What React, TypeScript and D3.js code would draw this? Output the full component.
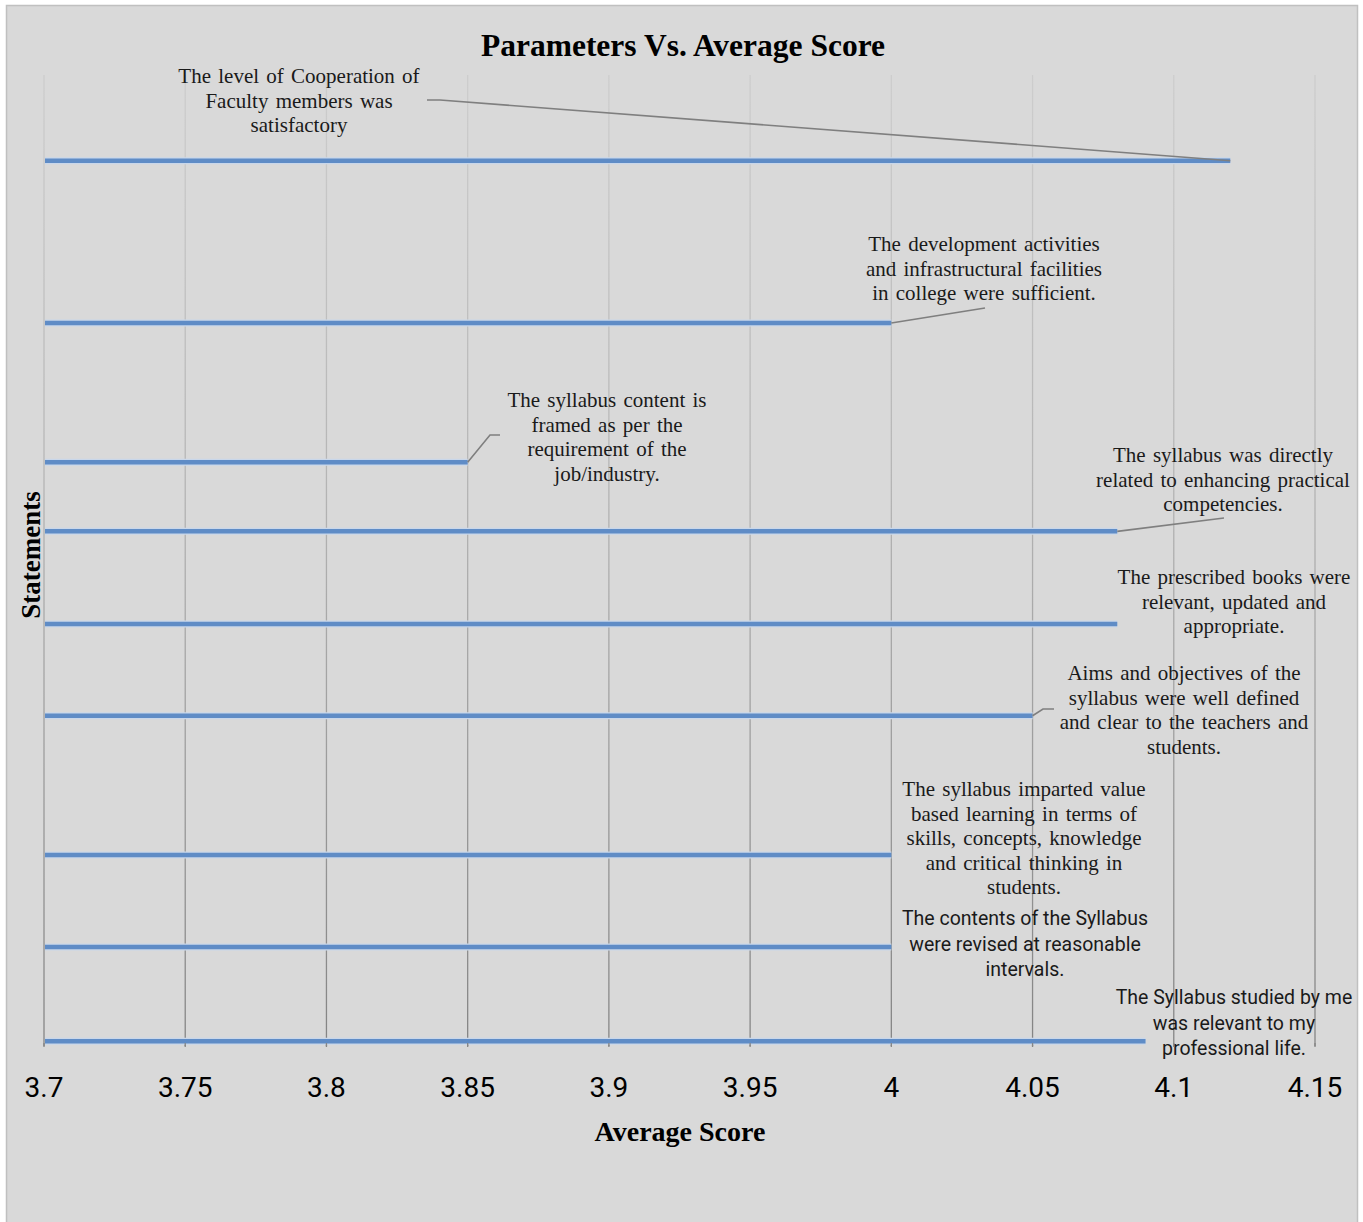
import React from "react";
import * as d3 from "d3";

// ---- data ----
const statements: string[] = [
  "The level of Cooperation of Faculty members was satisfactory",
  "The development activities and infrastructural facilities in college were sufficient.",
  "The syllabus content is framed as per the requirement of the job/industry.",
  "The syllabus was directly related to enhancing practical competencies.",
  "The prescribed books were relevant, updated and appropriate.",
  "Aims and objectives of the syllabus were well defined and clear to the teachers and students.",
  "The syllabus imparted value based learning in terms of skills, concepts, knowledge and critical thinking in students.",
  "The contents of the Syllabus were revised at reasonable intervals.",
  "The Syllabus studied by me was relevant to my professional life.",
];
const averageScores: number[] = [4.12, 4.0, 3.85, 4.08, 4.08, 4.05, 4.0, 4.0, 4.09];
const statementY: number[] = [9.57, 7.81, 6.3, 5.55, 4.545, 3.55, 2.04, 1.04, 0.02];
const xTicks: number[] = [3.7, 3.75, 3.8, 3.85, 3.9, 3.95, 4, 4.05, 4.1, 4.15];

// label line breaks, as in the picture
const labelLines: string[][] = [
  ["The level of Cooperation of", "Faculty members was", "satisfactory"],
  ["The development activities", "and infrastructural facilities", "in college were sufficient."],
  ["The syllabus content is", "framed as per the", "requirement of the", "job/industry."],
  ["The syllabus was directly", "related to enhancing practical", "competencies."],
  ["The prescribed books were", "relevant, updated and", "appropriate."],
  ["Aims and objectives of the", "syllabus were well defined", "and clear to the teachers and", "students."],
  ["The syllabus imparted value", "based learning in terms of", "skills, concepts, knowledge", "and critical thinking in", "students."],
  ["The contents of the Syllabus", "were revised at reasonable", "intervals."],
  ["The Syllabus studied by me", "was relevant to my", "professional life."],
];

// ---- layout (positions of labels / leaders) ----
const labelLayout = [
  { cx: 299, y0: 83, sans: false, leader: [[427, 100], [440, 100]] },
  { cx: 984, y0: 251, sans: false, leader: [[985, 308]] },
  { cx: 607, y0: 407, sans: false, leader: [[500, 435], [490, 435]] },
  { cx: 1223, y0: 462, sans: false, leader: [[1224, 518]] },
  { cx: 1234, y0: 584, sans: false, leader: [] },
  { cx: 1184, y0: 680, sans: false, leader: [[1054, 709], [1043, 709]] },
  { cx: 1024, y0: 796, sans: false, leader: [] },
  { cx: 1025, y0: 925, sans: true, leader: [] },
  { cx: 1234, y0: 1004, sans: true, leader: [] },
];

const W = 1363;
const H = 1222;
const plotLeft = 44;
const plotRight = 1315;
const plotTop = 75;
const plotBottom = 1043;

export default function App() {
  const x = d3.scaleLinear().domain([3.7, 4.15]).range([plotLeft, plotRight]);
  const y = d3.scaleLinear().domain([0, 10.5]).range([plotBottom, plotTop]);
  const serif = "'Liberation Serif', 'Times New Roman', serif";
  const sans = "Roboto, 'Noto Sans', sans-serif";
  const line = d3.line<number[]>().x((d) => d[0]).y((d) => d[1]);

  return (
    <svg
      width={W}
      height={H}
      style={{ position: "absolute", left: 0, top: 0, display: "block" }}
    >
      <defs>
        <linearGradient id="gridGrad" gradientUnits="userSpaceOnUse" x1="0" y1={plotTop} x2="0" y2={plotBottom + 4}>
          <stop offset="0" stopColor="#cdcdcd" />
          <stop offset="0.4" stopColor="#b6b6b6" />
          <stop offset="1" stopColor="#848484" />
        </linearGradient>
      </defs>
      <rect x={0} y={0} width={W} height={H} fill="#ffffff" />
      <rect x={6.5} y={5.5} width={1351} height={1222} fill="#d9d9d9" stroke="#c0c0c0" strokeWidth={1.5} />

      {/* title */}
      <text x={683} y={56} textAnchor="middle" fontFamily={serif} fontWeight="bold" fontSize={31.5} fill="#000">
        Parameters Vs. Average Score
      </text>

      {/* vertical gridlines */}
      {xTicks.map((t) => (
        <line key={"g" + t} x1={x(t)} x2={x(t)} y1={plotTop} y2={plotBottom + 3} stroke="url(#gridGrad)" strokeWidth={1.3} />
      ))}

      {/* bars drawn as thick lines */}
      {averageScores.map((v, i) => (
        <g key={"b" + i}>
          <line x1={x(3.7) + 1} x2={x(v)} y1={y(statementY[i])} y2={y(statementY[i])} stroke="#c9d7ea" strokeWidth={7} />
          <line x1={x(3.7) + 1} x2={x(v)} y1={y(statementY[i])} y2={y(statementY[i])} stroke="#5f8cc6" strokeWidth={4.5} />
        </g>
      ))}

      {/* leader lines */}
      {labelLayout.map((l, i) =>
        l.leader.length ? (
          <path
            key={"l" + i}
            d={line([...(l.leader as number[][]), [x(averageScores[i]), y(statementY[i])]]) || ""}
            fill="none"
            stroke="#7f7f7f"
            strokeWidth={1.6}
          />
        ) : null
      )}

      {/* labels */}
      {labelLines.map((lines, i) => {
        const l = labelLayout[i];
        return (
          <text
            key={"t" + i}
            textAnchor="middle"
            fontFamily={l.sans ? sans : serif}
            fontSize={l.sans ? 19.5 : 21}
            wordSpacing={l.sans ? 0 : 2}
            fill="#1a1a1a"
          >
            {lines.map((s, j) => (
              <tspan key={j} x={l.cx} y={l.y0 + j * (l.sans ? 25.5 : 24.6)}>
                {s}
              </tspan>
            ))}
          </text>
        );
      })}

      {/* x ticks */}
      {xTicks.map((t) => (
        <g key={"xt" + t}>
          <line x1={x(t)} x2={x(t)} y1={plotBottom} y2={plotBottom + 4} stroke="#868686" strokeWidth={1.3} />
          <text x={x(t)} y={1097} textAnchor="middle" fontFamily={sans} fontSize={28} fill="#000">
            {d3.format("~g")(t)}
          </text>
        </g>
      ))}

      {/* axis titles */}
      <text x={680} y={1141} textAnchor="middle" fontFamily={serif} fontWeight="bold" fontSize={28} fill="#000">
        Average Score
      </text>
      <text
        transform={`translate(40, 555) rotate(-90)`}
        textAnchor="middle"
        fontFamily={serif}
        fontWeight="bold"
        fontSize={27}
        fill="#000"
      >
        Statements
      </text>
    </svg>
  );
}
